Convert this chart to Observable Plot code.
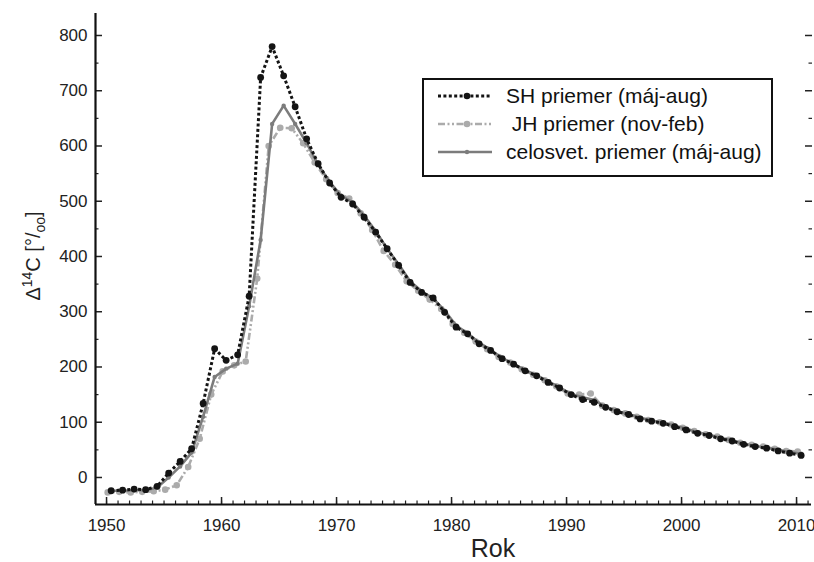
<!DOCTYPE html>
<html>
<head>
<meta charset="utf-8">
<script src="https://cdn.jsdelivr.net/npm/d3@7"></script>
<script src="https://cdn.jsdelivr.net/npm/@observablehq/plot@0.6"></script>
<style>
  html, body { margin: 0; padding: 0; background: #fff; }
  #chart svg { display: block; }
</style>
</head>
<body>
<div id="chart"></div>
<script>
// ---- data ----
const years = d3.range(1950, 2011);

const shValues = [
  -24, -23, -21, -22, -16, 8, 29, 52, 134, 233,
  212, 222, 328, 724, 780, 727, 671, 613, 568, 533,
  507, 495, 471, 444, 414, 384, 353, 335, 325, 299,
  272, 260, 242, 230, 215, 205, 193, 184, 172, 162,
  150, 141, 136, 127, 119, 114, 106, 102, 98, 92,
  86, 80, 76, 70, 66, 60, 56, 53, 48, 44,
  40
];

const jhValues = [
  -27, -26, -27, -26, -25, -22, -14, 19, 70, 150,
  192, 203, 210, 360, 600, 633, 632, 605, 570, 540,
  515, 505, 478, 448, 410, 385, 355, 338, 322, 305,
  278, 262, 246, 232, 218, 208, 196, 186, 176, 165,
  152, 150, 152, 130, 122, 116, 110, 104, 100, 96,
  90, 84, 78, 74, 68, 63, 59, 56, 52, 48,
  47
];

const globalValues = [
  -24, -24, -23, -23, -18, 0, 20, 45, 110, 182,
  197, 206, 310, 430, 640, 673, 640, 605, 566, 535,
  510, 498, 474, 446, 414, 386, 355, 337, 324, 302,
  275, 261, 244, 231, 216, 206, 194, 185, 174, 163,
  151, 145, 140, 128, 120, 115, 108, 103, 99, 94,
  88, 82, 77, 72, 67, 61, 57, 54, 50, 46,
  43
];

const seriesNames = ["SH priemer (máj-aug)", " JH priemer (nov-feb)", "celosvet. priemer (máj-aug)"];
const yMajor = d3.range(0, 801, 100);
const yMinor = d3.range(50, 801, 100);
const xMajor = d3.range(1950, 2011, 10);
const xMinor = d3.range(1950, 2012, 1);

// ---- layout / style ----
const W = 814, H = 562;
const mL = 95, mR = 3, mT = 13, mB = 58;
const xDomain = [1949.04, 2011.3];
const yDomain = [-48.9, 839.8];
const shOffset = 0.4, jhOffset = 0.1, glOffset = 0.4;
const font = "'Liberation Sans', Arial, Helvetica, sans-serif";

const sh = years.map((yr, i) => ({x: yr + shOffset, y: shValues[i]}));
const jh = years.map((yr, i) => ({x: yr + jhOffset, y: jhValues[i]}));
const gl = years.map((yr, i) => ({x: yr + glOffset, y: globalValues[i]}));

const cSH = "#141414", cJH = "#ababab", cGL = "#7c7c7c";
const dashSH = "3,2.4", dashJH = "7,2.5,2,2.5,2,2.5";
const noText = () => "";

const plot = Plot.plot({
  width: W, height: H,
  marginLeft: mL, marginRight: mR, marginTop: mT, marginBottom: mB,
  style: {fontFamily: font, background: "#fff", color: "#222"},
  x: {domain: xDomain, axis: null},
  y: {domain: yDomain, axis: null},
  marks: [
    // axes
    Plot.axisY({anchor: "left", ticks: yMajor, tickSize: -7, tickFormat: noText, label: null, strokeWidth: 1.5}),
    Plot.axisY({anchor: "left", ticks: yMinor, tickSize: -3.5, tickFormat: noText, label: null, strokeWidth: 1.2}),
    Plot.axisY({anchor: "left", ticks: yMajor, tickSize: 0, tickPadding: 8, fontSize: 17, label: null}),
    Plot.axisY({anchor: "right", ticks: yMajor, tickSize: -7, tickFormat: noText, label: null, strokeWidth: 1.5}),
    Plot.axisY({anchor: "right", ticks: yMinor, tickSize: -3.5, tickFormat: noText, label: null, strokeWidth: 1.2}),
    Plot.axisX({anchor: "bottom", ticks: xMajor, tickSize: -7, tickFormat: noText, label: null, strokeWidth: 1.5}),
    Plot.axisX({anchor: "bottom", ticks: xMinor, tickSize: -3.5, tickFormat: noText, label: null, strokeWidth: 1.2}),
    Plot.axisX({anchor: "bottom", ticks: xMajor, tickSize: 0, tickPadding: 14, fontSize: 17, tickFormat: "d", label: null}),
    Plot.ruleX([xDomain[0]], {stroke: "#111", strokeWidth: 2.2}),
    Plot.ruleY([yDomain[0]], {stroke: "#111", strokeWidth: 2.2}),
    // series
    Plot.line(jh, {x: "x", y: "y", stroke: cJH, strokeWidth: 2.6, strokeDasharray: dashJH, strokeLinecap: "butt", strokeLinejoin: "miter"}),
    Plot.dot(jh, {x: "x", y: "y", r: 3.3, fill: cJH}),
    Plot.line(gl, {x: "x", y: "y", stroke: cGL, strokeWidth: 2.6}),
    Plot.dot(gl, {x: "x", y: "y", r: 2.2, fill: cGL}),
    Plot.line(sh, {x: "x", y: "y", stroke: cSH, strokeWidth: 3, strokeDasharray: dashSH, strokeLinecap: "butt", strokeLinejoin: "miter"}),
    Plot.dot(sh, {x: "x", y: "y", r: 3.4, fill: cSH})
  ]
});

document.getElementById("chart").appendChild(plot);
const svg = d3.select(plot);

// x-axis title
svg.append("text")
  .attr("x", 493).attr("y", 557)
  .attr("text-anchor", "middle")
  .attr("font-family", font).attr("font-size", 25).attr("fill", "#222")
  .text("Rok");

// y-axis title
const yl = svg.append("text")
  .attr("transform", "translate(40,256) rotate(-90)")
  .attr("text-anchor", "middle")
  .attr("font-family", font).attr("font-size", 20).attr("fill", "#222");
yl.append("tspan").text("Δ");
yl.append("tspan").attr("font-size", 14).attr("dy", -8).text("14");
yl.append("tspan").attr("dy", 8).text("C [°/");
yl.append("tspan").attr("font-size", 14).attr("dy", 5).text("oo");
yl.append("tspan").attr("dy", -5).text("]");

// legend
const lg = svg.append("g");
lg.append("rect").attr("x", 423).attr("y", 79).attr("width", 349).attr("height", 97)
  .attr("fill", "#fff").attr("stroke", "#111").attr("stroke-width", 2);
const rows = [
  {name: seriesNames[0], color: cSH, dash: dashSH, w: 3, r: 3.3, y: 96},
  {name: seriesNames[1], color: cJH, dash: dashJH, w: 2.6, r: 3.3, y: 124},
  {name: seriesNames[2], color: cGL, dash: null, w: 2.6, r: 2.2, y: 152}
];
rows.forEach(d => {
  lg.append("line").attr("x1", 438).attr("x2", 492).attr("y1", d.y).attr("y2", d.y)
    .attr("stroke", d.color).attr("stroke-width", d.w)
    .attr("stroke-linecap", "butt")
    .attr("stroke-dasharray", d.dash);
  lg.append("circle").attr("cx", 467).attr("cy", d.y).attr("r", d.r).attr("fill", d.color);
  lg.append("text").attr("x", 506).attr("y", d.y).attr("dy", "0.35em")
    .attr("text-anchor", "start")
    .attr("font-family", font).attr("font-size", 21).attr("fill", "#111")
    .attr("xml:space", "preserve").style("white-space", "pre")
    .text(d.name);
});
</script>
</body>
</html>
